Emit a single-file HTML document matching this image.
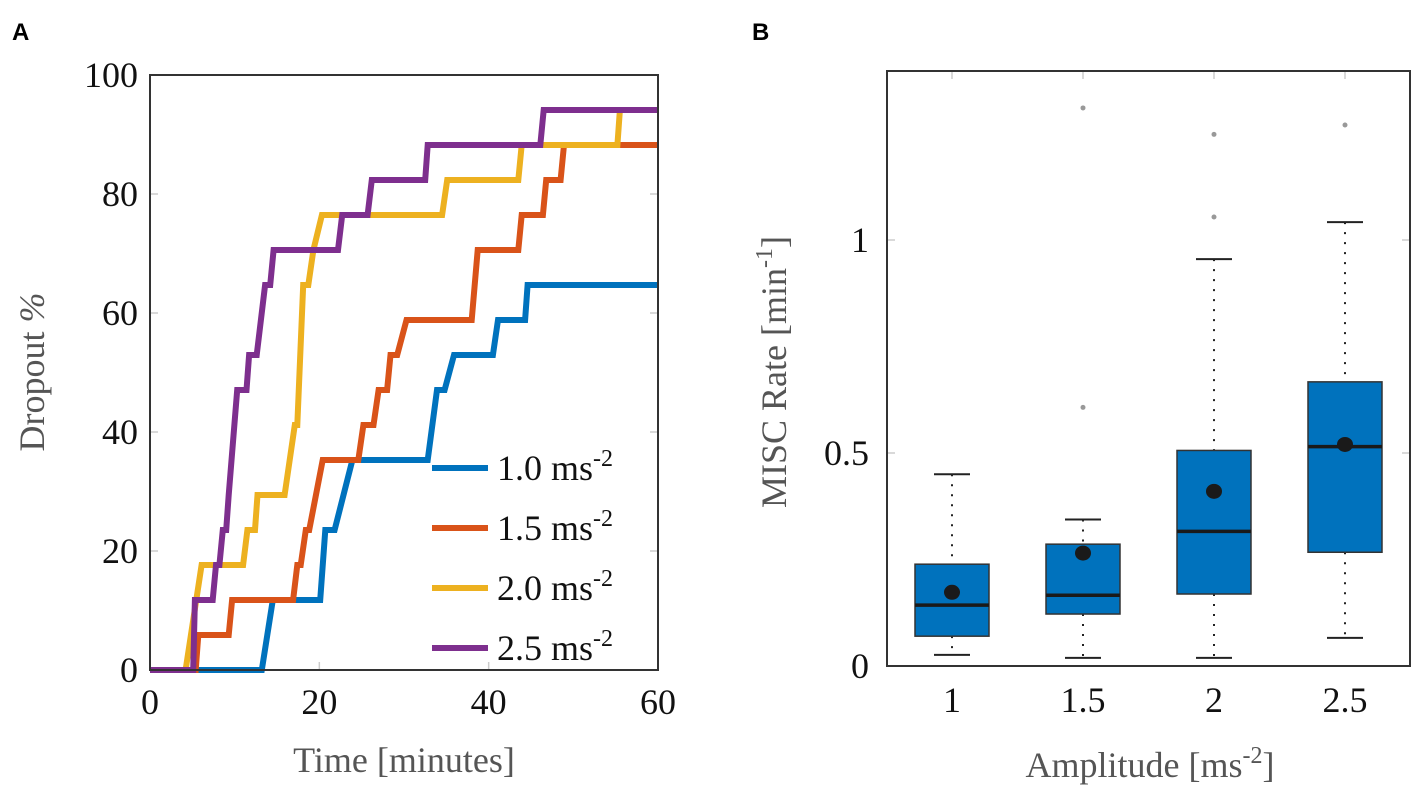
<!DOCTYPE html>
<html><head><meta charset="utf-8">
<style>
html,body{margin:0;padding:0;background:#fff;}
svg{display:block;font-family:"Liberation Serif",serif;}
</style></head>
<body>
<svg id="chart" width="1417" height="799" viewBox="0 0 1417 799" xmlns="http://www.w3.org/2000/svg">
<text x="12" y="40" font-family="Liberation Sans, sans-serif" font-weight="bold" font-size="24">A</text>
<text x="752" y="40" font-family="Liberation Sans, sans-serif" font-weight="bold" font-size="24">B</text>
<g id="pa"></g>
<g id="pb"></g>
</svg>
<script>
// ---------- Panel A data ----------
const seriesNames = ["1.0", "1.5", "2.0", "2.5"];
const seriesColors = ["#0072BD", "#D95319", "#EDB120", "#7E2F8E"];
const t10 = [0,13.2,14.5,20.1,20.7,21.8,23.9,32.8,33.9,34.8,35.9,40.5,41.1,44.3,44.6,60];
const v10 = [0,0,11.76,11.76,23.53,23.53,35.29,35.29,47.06,47.06,52.94,52.94,58.82,58.82,64.71,64.71];
const t15 = [0,5.4,5.7,9.3,9.7,16.9,17.4,17.8,18.4,18.8,20.4,24.6,25.2,26.4,27.0,28.0,28.4,29.2,30.3,38.0,38.7,43.5,43.9,46.4,46.8,48.5,48.9,60];
const v15 = [0,0,5.88,5.88,11.76,11.76,17.65,17.65,23.53,23.53,35.29,35.29,41.18,41.18,47.06,47.06,52.94,52.94,58.82,58.82,70.59,70.59,76.47,76.47,82.35,82.35,88.24,88.24];
const t20 = [0,4.2,6.1,11.0,11.5,12.4,12.7,15.9,17.1,17.4,18.1,18.7,19.3,20.3,34.5,35.1,43.5,43.9,55.2,55.5,60];
const v20 = [0,0,17.65,17.65,23.53,23.53,29.41,29.41,41.18,41.18,64.71,64.71,70.59,76.47,76.47,82.35,82.35,88.24,88.24,94.12,94.12];
const t25 = [0,5.1,5.3,7.4,7.8,8.2,8.6,9.0,9.3,10.3,11.4,11.7,12.6,13.6,14.2,14.6,22.2,22.7,25.7,26.2,32.5,32.8,46.1,46.5,60];
const v25 = [0,0,11.76,11.76,17.65,17.65,23.53,23.53,29.41,47.06,47.06,52.94,52.94,64.71,64.71,70.59,70.59,76.47,76.47,82.35,82.35,88.24,88.24,94.12,94.12];
const aXTicks = [0,20,40,60];
const aYTicks = [0,20,40,60,80,100];

// ---------- Panel B data ----------
const bCats = ["1","1.5","2","2.5"];
const bWhiskLow = [0.026,0.019,0.019,0.066];
const bQ1 = [0.070,0.122,0.169,0.267];
const bMedian = [0.143,0.166,0.316,0.515];
const bQ3 = [0.239,0.286,0.506,0.667];
const bWhiskHigh = [0.45,0.344,0.955,1.042];
const bMean = [0.173,0.265,0.41,0.52];
const bOutliers = [[],[0.607,1.31],[1.054,1.248],[1.27]];
const bYTicks = [0,0.5,1];
const bYTickLabels = ["0","0.5","1"];

const NS="http://www.w3.org/2000/svg";
function mk(parent,tag,attrs,text){const e=document.createElementNS(NS,tag);for(const k in attrs)e.setAttribute(k,attrs[k]);if(text!==undefined)e.textContent=text;parent.appendChild(e);return e;}

// Panel A
const pa=document.getElementById('pa');
const AX0=150,AX1=658,AY0=670,AY1=75;
const ax=t=>AX0+(t/60)*(AX1-AX0);
const ay=v=>AY0-(v/100)*(AY0-AY1);
aXTicks.forEach(t=>{
  const l=mk(pa,'line',{x1:ax(t),x2:ax(t),y1:AY0,y2:AY0-8,stroke:'#ccc','stroke-width':1.5});
  
  
  const tx=mk(pa,'text',{x:ax(t),y:AY0+44,'text-anchor':'middle','font-size':36,fill:'#111'},String(t));
  
  
});
aYTicks.forEach(v=>{
  const l=mk(pa,'line',{x1:AX0,x2:AX0+8,y1:ay(v),y2:ay(v),stroke:'#ccc','stroke-width':1.5});
  
  
  const l2=mk(pa,'line',{x1:AX1,x2:AX1-8,y1:ay(v),y2:ay(v),stroke:'#ccc','stroke-width':1.5});
  
  
  const tx=mk(pa,'text',{x:AX0-12,y:ay(v)+12,'text-anchor':'end','font-size':36,fill:'#111'},String(v));
  
  
});
const allT=[t10,t15,t20,t25], allV=[v10,v15,v20,v25];
allT.forEach((ts,i)=>{
  const pts=ts.map((t,j)=>ax(t).toFixed(1)+','+ay(allV[i][j]).toFixed(1)).join(' ');
  const p=mk(pa,'polyline',{points:pts,fill:'none',stroke:seriesColors[i],'stroke-width':6,'stroke-linejoin':'miter'});
  
  
});
const fr=mk(pa,'rect',{x:AX0,y:AY1,width:AX1-AX0,height:AY0-AY1,fill:'none',stroke:'#333','stroke-width':2});


seriesNames.forEach((n,i)=>{
  const y=468+i*60;
  const l=mk(pa,'line',{x1:432,x2:488,y1:y,y2:y,stroke:seriesColors[i],'stroke-width':6});
  
  
  const tx=mk(pa,'text',{x:497,y:y+12,'font-size':36,fill:'#111'});
  
  
  mk(tx,'tspan',{},n+' ms');
  mk(tx,'tspan',{dy:-14,'font-size':24},'-2');
});
const xt=mk(pa,'text',{x:404,y:772,'text-anchor':'middle','font-size':36,fill:'#555'},'Time [minutes]');


const yt=mk(pa,'text',{x:0,y:0,'text-anchor':'middle','font-size':36,fill:'#555',transform:'translate(44,372) rotate(-90)'});


mk(yt,'tspan',{},'Dropout ');
mk(yt,'tspan',{'font-style':'italic'},'%');

// Panel B
const pb=document.getElementById('pb');
const BX0=887,BX1=1410,BY0=666,BY1=71;
const bx=i=>952+i*131;
const by=v=>666-v*426;
bYTicks.forEach((v,i)=>{
  const l=mk(pb,'line',{x1:BX0,x2:BX0+8,y1:by(v),y2:by(v),stroke:'#ccc','stroke-width':1.5});
  
  
  const l2=mk(pb,'line',{x1:BX1,x2:BX1-8,y1:by(v),y2:by(v),stroke:'#ccc','stroke-width':1.5});
  
  
  const tx=mk(pb,'text',{x:BX0-18,y:by(v)+12,'text-anchor':'end','font-size':36,fill:'#111'},bYTickLabels[i]);
  
  
});
bCats.forEach((c,i)=>{
  const x=bx(i);
  const tk=mk(pb,'line',{x1:x,x2:x,y1:BY1,y2:BY1+8,stroke:'#ccc','stroke-width':1.5});
  
  
  const tx=mk(pb,'text',{x:x,y:BY0+46,'text-anchor':'middle','font-size':36,fill:'#111'},c);
  
  
  const w1=mk(pb,'line',{x1:x,x2:x,y1:by(bWhiskHigh[i]),y2:by(bQ3[i]),stroke:'#222','stroke-width':2,'stroke-dasharray':'2,8'});
  
  
  const w2=mk(pb,'line',{x1:x,x2:x,y1:by(bQ1[i]),y2:by(bWhiskLow[i]),stroke:'#222','stroke-width':2,'stroke-dasharray':'2,8'});
  
  
  const c1=mk(pb,'line',{x1:x-18,x2:x+18,y1:by(bWhiskHigh[i]),y2:by(bWhiskHigh[i]),stroke:'#222','stroke-width':2});
  
  
  const c2=mk(pb,'line',{x1:x-18,x2:x+18,y1:by(bWhiskLow[i]),y2:by(bWhiskLow[i]),stroke:'#222','stroke-width':2});
  
  
  const r=mk(pb,'rect',{x:x-37,y:by(bQ3[i]),width:74,height:by(bQ1[i])-by(bQ3[i]),fill:'#0072BD',stroke:'#333','stroke-width':1.5});
  
  
  const m=mk(pb,'line',{x1:x-37,x2:x+37,y1:by(bMedian[i]),y2:by(bMedian[i]),stroke:'#1a1a1a','stroke-width':3.5});
  
  
  const mc=mk(pb,'ellipse',{cx:x,cy:by(bMean[i]),rx:8,ry:7.5,fill:'#1a1a1a'});
  
  
  bOutliers[i].forEach(o=>{
    const oc=mk(pb,'circle',{cx:x,cy:by(o),r:2.5,fill:'#999'});
    
    
  });
});
const fb=mk(pb,'rect',{x:BX0,y:BY1,width:BX1-BX0,height:BY0-BY1,fill:'none',stroke:'#333','stroke-width':2});


const xtb=mk(pb,'text',{x:1150,y:777,'text-anchor':'middle','font-size':36,fill:'#555'});


mk(xtb,'tspan',{},'Amplitude [ms');
mk(xtb,'tspan',{dy:-14,'font-size':24},'-2');
mk(xtb,'tspan',{dy:14},']');
const ytb=mk(pb,'text',{x:0,y:0,'text-anchor':'middle','font-size':36,fill:'#555',transform:'translate(786,372) rotate(-90)'});


mk(ytb,'tspan',{},'MISC Rate [min');
mk(ytb,'tspan',{dy:-14,'font-size':24},'-1');
mk(ytb,'tspan',{dy:14},']');
</script>
</body></html>
